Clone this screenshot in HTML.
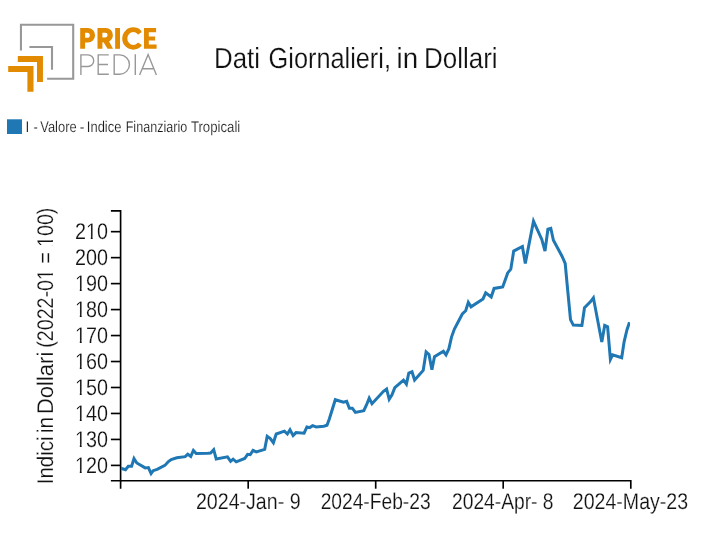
<!DOCTYPE html>
<html><head><meta charset="utf-8"><title>Dati Giornalieri, in Dollari</title>
<style>
html,body{margin:0;padding:0;background:#fff;}
body{width:712px;height:555px;overflow:hidden;font-family:"Liberation Sans",sans-serif;}
svg{display:block;will-change:transform;}
text{font-family:"Liberation Sans",sans-serif;fill:#111;text-rendering:geometricPrecision;stroke:#fff;stroke-width:0.2px;}
</style></head><body>
<svg width="712" height="555" viewBox="0 0 712 555">
<rect width="712" height="555" fill="#fff"/>
<g id="logo">
<path d="M20.95,50.6 V24.7 H73.2 V78.8 H47.1" fill="none" stroke="#989898" stroke-width="2.1"/>
<path d="M29.4,47.05 H52.0 V69.8" fill="none" stroke="#989898" stroke-width="2.1"/>
<path d="M17.8,56.1 H42.95 V81.9 H37.0 V62.0 H17.8 Z" fill="#e28a00"/>
<path d="M8.2,66.1 H33.5 V91.8 H27.4 V72.1 H8.2 Z" fill="#e28a00"/>
<g fill="#e28a00" fill-rule="evenodd">
<path d="M80.2,48.8 V28.0 H87.85 A7.2,7.25 0 0 1 87.85,42.5 H85.1 V48.8 Z M85.1,32.7 H87.3 A2.55,2.55 0 0 1 87.3,37.8 H85.1 Z"/>
<path d="M97.5,48.8 V28.0 H105.85 A7.05,7.15 0 0 1 105.85,42.3 H102.4 V48.8 Z M102.4,32.7 H105.2 A2.4,2.4 0 0 1 105.2,37.5 H102.4 Z"/>
<path d="M103.2,41.8 L108.6,40.6 L113.0,48.8 H107.6 Z"/>
<rect x="115.15" y="28.0" width="4.85" height="20.8"/>
<path d="M144.0,28.0 H156.1 V32.3 H148.8 V36.4 H155.1 V40.45 H148.8 V44.5 H156.6 V48.8 H144.0 Z"/>
</g>
<clipPath id="cc"><path d="M120,25 H141.5 V32.35 L137.5,34.9 L134.5,38.5 L137.5,42.2 L141.5,44.7 V52 H120 Z"/></clipPath>
<path clip-path="url(#cc)" fill="#e28a00" fill-rule="evenodd" d="M122.2,38.5 a11.1,11.13 0 1 0 22.2,0 a11.1,11.13 0 1 0 -22.2,0 Z M127.3,38.5 a6.0,6.45 0 1 0 12.0,0 a6.0,6.45 0 1 0 -12.0,0 Z"/>
<g fill="none" stroke="#989898" stroke-width="1.4">
<path d="M80.9,74.9 V54.9 H88 a5.7,5.8 0 0 1 0,11.6 H80.9"/>
<path d="M108.8,54.9 H98.2 V74.2 H108.8 M98.2,64.5 H108"/>
<path d="M114.2,54.9 V74.2 H119.8 a9.65,9.65 0 0 0 0,-19.3 Z"/>
<path d="M135.3,54.2 V74.9"/>
<path d="M139.6,74.9 L148.1,54.6 L156.4,74.9 M142.2,68.8 H153.9"/>
</g>
</g>
<text transform="translate(213.97,67.5) scale(0.8915,1)" font-size="29.0" xml:space="preserve">Dati</text>
<text transform="translate(268.59,67.5) scale(0.8727,1)" font-size="29.0" xml:space="preserve">Giornalieri,</text>
<text transform="translate(396.49,67.5) scale(0.9547,1)" font-size="29.0" xml:space="preserve">in</text>
<text transform="translate(424.06,67.5) scale(0.8952,1)" font-size="29.0" xml:space="preserve">Dollari</text>
<text transform="translate(25.55,131.8) scale(0.8700,1)" font-size="15.5" xml:space="preserve">I</text>
<text transform="translate(33.38,131.8) scale(0.8267,1)" font-size="15.5" xml:space="preserve">-</text>
<text transform="translate(40.29,131.8) scale(0.8327,1)" font-size="15.5" xml:space="preserve">Valore</text>
<text transform="translate(79.72,131.8) scale(0.9067,1)" font-size="15.5" xml:space="preserve">-</text>
<text transform="translate(86.85,131.8) scale(0.8357,1)" font-size="15.5" xml:space="preserve">Indice</text>
<text transform="translate(125.69,131.8) scale(0.8108,1)" font-size="15.5" xml:space="preserve">Finanziario</text>
<text transform="translate(190.89,131.8) scale(0.8511,1)" font-size="15.5" xml:space="preserve">Tropicali</text>
<text transform="translate(195.92,508.9) scale(0.8640,1)" font-size="22.7" xml:space="preserve">2024-Jan- 9</text>
<text transform="translate(320.64,508.9) scale(0.8462,1)" font-size="22.7" xml:space="preserve">2024-Feb-23</text>
<text transform="translate(452.04,508.9) scale(0.8467,1)" font-size="22.7" xml:space="preserve">2024-Apr- 8</text>
<text transform="translate(572.82,508.9) scale(0.8624,1)" font-size="22.7" xml:space="preserve">2024-May-23</text>
<text transform="translate(52.7,484.31) rotate(-90) scale(0.9030,1)" font-size="22.7" xml:space="preserve">Indici</text>
<text transform="translate(52.7,433.29) rotate(-90) scale(0.9288,1)" font-size="22.7" xml:space="preserve">in</text>
<text transform="translate(52.7,414.10) rotate(-90) scale(0.9705,1)" font-size="22.7" xml:space="preserve">Dollari</text>
<text transform="translate(52.7,347.70) rotate(-90) scale(0.8641,1)" font-size="22.7" xml:space="preserve">(2022-01 = 100)</text>
<text transform="translate(107.86,472.85) scale(0.8699,1)" font-size="22.7" text-anchor="end">120</text>
<rect x="76.00" y="470.40" width="3.80" height="3.05" fill="#fff"/>
<rect x="81.68" y="470.40" width="3.60" height="3.05" fill="#fff"/>
<text transform="translate(107.86,446.88) scale(0.8699,1)" font-size="22.7" text-anchor="end">130</text>
<rect x="76.00" y="444.43" width="3.80" height="3.05" fill="#fff"/>
<rect x="81.68" y="444.43" width="3.60" height="3.05" fill="#fff"/>
<text transform="translate(107.86,420.91) scale(0.8699,1)" font-size="22.7" text-anchor="end">140</text>
<rect x="76.00" y="418.46" width="3.80" height="3.05" fill="#fff"/>
<rect x="81.68" y="418.46" width="3.60" height="3.05" fill="#fff"/>
<text transform="translate(107.86,394.94) scale(0.8699,1)" font-size="22.7" text-anchor="end">150</text>
<rect x="76.00" y="392.49" width="3.80" height="3.05" fill="#fff"/>
<rect x="81.68" y="392.49" width="3.60" height="3.05" fill="#fff"/>
<text transform="translate(107.86,368.97) scale(0.8699,1)" font-size="22.7" text-anchor="end">160</text>
<rect x="76.00" y="366.52" width="3.80" height="3.05" fill="#fff"/>
<rect x="81.68" y="366.52" width="3.60" height="3.05" fill="#fff"/>
<text transform="translate(107.86,343.00) scale(0.8699,1)" font-size="22.7" text-anchor="end">170</text>
<rect x="76.00" y="340.55" width="3.80" height="3.05" fill="#fff"/>
<rect x="81.68" y="340.55" width="3.60" height="3.05" fill="#fff"/>
<text transform="translate(107.86,317.03) scale(0.8699,1)" font-size="22.7" text-anchor="end">180</text>
<rect x="76.00" y="314.58" width="3.80" height="3.05" fill="#fff"/>
<rect x="81.68" y="314.58" width="3.60" height="3.05" fill="#fff"/>
<text transform="translate(107.86,291.06) scale(0.8699,1)" font-size="22.7" text-anchor="end">190</text>
<rect x="76.00" y="288.61" width="3.80" height="3.05" fill="#fff"/>
<rect x="81.68" y="288.61" width="3.60" height="3.05" fill="#fff"/>
<text transform="translate(107.86,265.09) scale(0.8699,1)" font-size="22.7" text-anchor="end">200</text>
<text transform="translate(107.86,239.12) scale(0.8699,1)" font-size="22.7" text-anchor="end">210</text>
<rect x="86.98" y="236.67" width="3.80" height="3.05" fill="#fff"/>
<rect x="92.66" y="236.67" width="3.60" height="3.05" fill="#fff"/>
<rect x="50.25" y="275.24" width="3.05" height="3.77" fill="#fff"/>
<rect x="50.25" y="269.80" width="3.05" height="3.58" fill="#fff"/>
<rect x="50.25" y="241.98" width="3.05" height="3.77" fill="#fff"/>
<rect x="50.25" y="236.54" width="3.05" height="3.58" fill="#fff"/>
<rect x="7" y="119.3" width="15" height="14.7" fill="#1f77b4"/>
<g fill="none" stroke="#000" stroke-width="1.65">
<path d="M110.9,210.8 H120.6 V480.7 H110.9"/>
<path d="M120.6,488.7 V480.7 H630.8 V488.7"/>
<path d="M110.9,465.40 H120.6"/>
<path d="M110.9,439.43 H120.6"/>
<path d="M110.9,413.46 H120.6"/>
<path d="M110.9,387.49 H120.6"/>
<path d="M110.9,361.52 H120.6"/>
<path d="M110.9,335.55 H120.6"/>
<path d="M110.9,309.58 H120.6"/>
<path d="M110.9,283.61 H120.6"/>
<path d="M110.9,257.64 H120.6"/>
<path d="M110.9,231.67 H120.6"/>
<path d="M248.2,480.7 V488.7"/>
<path d="M375.7,480.7 V488.7"/>
<path d="M503.2,480.7 V488.7"/>
</g>
<clipPath id="cp"><rect x="120.6" y="200" width="509.5" height="285"/></clipPath>
<path d="M120.9,468.2 L125.5,469.7 L128.3,466.2 L131.6,466.2 L134.0,458.6 L136.8,463.0 L145.2,467.9 L148.4,467.6 L151.1,473.5 L153.2,470.7 L157.1,469.3 L164.9,465.4 L168.4,461.6 L171.2,459.5 L176.8,457.8 L185.2,456.7 L187.8,454.2 L190.8,456.4 L193.4,450.5 L196.2,453.6 L207.7,453.2 L210.6,453.0 L213.7,449.7 L216.2,459.0 L227.5,456.9 L230.6,461.3 L233.1,459.2 L236.2,461.8 L244.7,458.5 L247.6,454.3 L250.2,454.7 L253.0,450.4 L256.3,451.9 L264.7,449.4 L267.2,436.3 L270.3,438.5 L273.4,442.7 L276.2,434.0 L284.4,431.2 L287.4,434.0 L290.0,429.8 L293.1,435.6 L296.0,432.6 L304.1,433.2 L306.9,426.9 L309.7,427.6 L312.6,425.7 L316.1,426.9 L323.8,426.2 L327.0,425.3 L329.4,418.7 L335.3,399.7 L343.5,402.3 L346.7,401.4 L349.4,408.2 L352.3,408.2 L355.4,412.4 L363.8,410.7 L366.6,404.7 L369.2,398.1 L372.0,403.7 L383.5,391.3 L386.6,389.0 L389.2,399.3 L392.0,394.9 L394.8,387.7 L403.5,380.2 L406.4,384.1 L408.8,373.0 L412.0,371.8 L414.6,380.0 L423.2,370.4 L426.1,352.0 L429.0,354.6 L431.9,369.7 L434.5,356.7 L443.4,351.3 L446.0,354.8 L448.9,348.7 L451.5,337.1 L454.4,329.1 L462.3,314.0 L465.7,310.8 L468.3,302.3 L471.0,306.8 L483.0,298.9 L485.7,292.8 L491.2,297.0 L494.1,288.4 L502.7,286.9 L507.7,272.9 L510.8,269.2 L513.7,251.1 L522.4,246.5 L525.3,263.4 L533.5,221.2 L541.8,239.4 L545.0,251.1 L547.9,229.2 L550.8,228.3 L553.4,240.3 L562.0,256.2 L565.2,263.5 L567.2,285.0 L570.5,319.6 L573.3,325.1 L581.9,325.4 L584.5,307.8 L590.6,301.6 L593.4,297.8 L601.8,342.0 L604.7,325.4 L607.6,326.8 L610.4,359.5 L612.6,354.9 L621.7,357.8 L624.1,341.9 L627.0,329.7 L629.5,322.2" clip-path="url(#cp)" fill="none" stroke="#1f77b4" stroke-width="3" stroke-linejoin="miter" stroke-linecap="butt"/>
</svg>
</body></html>
